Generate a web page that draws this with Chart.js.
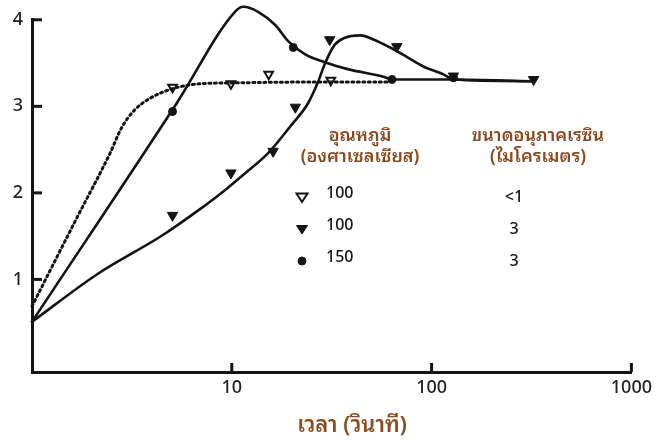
<!DOCTYPE html>
<html>
<head>
<meta charset="utf-8">
<script src="https://cdn.jsdelivr.net/npm/chart.js@4.4.0/dist/chart.umd.min.js"></script>
<style>
  html, body { margin: 0; padding: 0; background: #fff; }
  #wrap { width: 657px; height: 441px; position: relative; }
</style>
</head>
<body>
<div id="wrap"><canvas id="chart" width="657" height="441"></canvas></div>
<script>
"use strict";

// tick labels
const xTicks = [10, 100, 1000];
const yTicks = [1, 2, 3, 4];

// <1 micron resin, 100 C (dotted curve, open triangles)
const fineLineTime  = [1.0, 1.65, 2.46, 2.82, 3.27, 3.88, 4.99, 6.86, 9.69, 21.4, 60.1];
const fineLineValue = [0.69, 1.68, 2.46, 2.76, 2.96, 3.09, 3.20, 3.26, 3.27, 3.28, 3.28];
const fineMarkTime  = [5.05, 9.9, 15.3, 31.3];
const fineMarkValue = [3.22, 3.26, 3.37, 3.30];

// 3 micron resin, 100 C (solid curve, filled triangles)
const coarseLineTime  = [1.0, 2.12, 4.5, 6.63, 9.34, 11.7, 15.2, 19.8, 24.0, 27.0, 29.2, 32.7, 36.6, 44.0, 51.5, 62.0, 75.4, 91.0, 114.6, 128.6, 313];
const coarseLineValue = [0.51, 1.06, 1.51, 1.78, 2.04, 2.23, 2.46, 2.78, 3.03, 3.28, 3.49, 3.71, 3.79, 3.82, 3.77, 3.68, 3.57, 3.46, 3.37, 3.31, 3.29];
const coarseMarkTime  = [5.05, 9.9, 16.1, 20.8, 30.9, 67, 128.6, 324];
const coarseMarkValue = [1.74, 2.23, 2.48, 2.99, 3.77, 3.69, 3.35, 3.31];

// 3 micron resin, 150 C (solid curve, dots)
const hotLineTime  = [1.0, 5.28, 10.45, 11.4, 13.6, 16.5, 19.2, 23.3, 29.2, 38.0, 58.0, 63.3, 128.6, 313];
const hotLineValue = [0.51, 3.03, 4.10, 4.15, 4.09, 3.94, 3.75, 3.60, 3.51, 3.43, 3.34, 3.31, 3.31, 3.29];
const hotMarkTime  = [5.05, 10.45, 20.3, 63.3, 128.6];
const hotMarkValue = [2.94, 4.10, 3.68, 3.31, 3.33];

// legend
const legendTemps = ["100", "100", "150"];
const legendSizes = ["<1", "3", "3"];
const legendMarks = ["open", "filled", "dot"];

const ink = "#141414";
const brown = "#8c4a1f";
const thaiFont = '"Noto Sans Thai Looped", "Noto Sans Thai", "Noto Sans", "DejaVu Sans", sans-serif';
const numFont = "'Noto Sans', 'DejaVu Sans', sans-serif";

function pairs(xs, ys) {
  return xs.map((x, i) => ({ x: x, y: ys[i] }));
}

function lineSet(xs, ys, dash) {
  return {
    data: pairs(xs, ys),
    borderColor: ink,
    borderWidth: dash ? 3 : 2.6,
    borderDash: dash || [],
    borderCapStyle: "round",
    pointRadius: 0,
    cubicInterpolationMode: "monotone",
    clip: false,
    fill: false
  };
}

function markSet(xs, ys, style) {
  return {
    data: pairs(xs, ys),
    showLine: false,
    pointStyle: style === "dot" ? "circle" : "triangle",
    rotation: style === "dot" ? 0 : 180,
    pointRadius: style === "dot" ? 4 : (style === "open" ? 5 : 6),
    pointBackgroundColor: style === "open" ? "#fff" : ink,
    pointBorderColor: ink,
    pointBorderWidth: style === "open" ? 2 : 1,
    clip: false
  };
}

function drawMark(ctx, style, x, y) {
  ctx.beginPath();
  if (style === "dot") {
    ctx.arc(x, y, 4, 0, Math.PI * 2);
  } else {
    ctx.moveTo(x - 5.5, y - 3.5);
    ctx.lineTo(x + 5.5, y - 3.5);
    ctx.lineTo(x, y + 5);
    ctx.closePath();
  }
  ctx.fillStyle = style === "open" ? "#fff" : ink;
  ctx.fill();
  ctx.lineWidth = style === "open" ? 2 : 1;
  ctx.strokeStyle = ink;
  ctx.stroke();
}

// inward ticks, legend block and x title
const overlay = {
  id: "overlay",
  afterDraw(chart) {
    const { ctx, scales: { x, y } } = chart;
    ctx.save();
    ctx.strokeStyle = ink;
    ctx.lineWidth = 3;
    yTicks.forEach(v => {
      const py = y.getPixelForValue(v);
      ctx.beginPath();
      ctx.moveTo(x.left, py);
      ctx.lineTo(x.left + 10, py);
      ctx.stroke();
    });
    xTicks.forEach(v => {
      const px = x.getPixelForValue(v);
      ctx.beginPath();
      ctx.moveTo(px, y.bottom);
      ctx.lineTo(px, y.bottom - 9);
      ctx.stroke();
    });

    ctx.textAlign = "center";
    ctx.textBaseline = "middle";
    ctx.fillStyle = brown;
    ctx.font = "600 18px " + thaiFont;
    ctx.fillText("อุณหภูมิ", 360, 136);
    ctx.fillText("(องศาเซลเซียส)", 360, 157);
    ctx.fillText("ขนาดอนุภาคเรซิน", 538, 136);
    ctx.fillText("(ไมโครเมตร)", 538, 157);

    ctx.font = "600 22px " + thaiFont;
    ctx.fillText("เวลา (วินาที)", 352, 426);

    legendTemps.forEach((t, i) => {
      const rowY = 193 + i * 32;
      drawMark(ctx, legendMarks[i], 302, rowY + 4);
      ctx.fillStyle = ink;
      ctx.font = "500 16px " + numFont;
      ctx.textAlign = "left";
      ctx.fillText(t, 326, rowY);
      ctx.textAlign = "center";
      ctx.fillText(legendSizes[i], 514, rowY + 4);
    });
    ctx.restore();
  }
};

new Chart(document.getElementById("chart"), {
  type: "line",
  data: {
    datasets: [
      lineSet(fineLineTime, fineLineValue, [2, 3.5]),
      lineSet(coarseLineTime, coarseLineValue),
      lineSet(hotLineTime, hotLineValue),
      markSet(fineMarkTime, fineMarkValue, "open"),
      markSet(coarseMarkTime, coarseMarkValue, "filled"),
      markSet(hotMarkTime, hotMarkValue, "dot")
    ]
  },
  options: {
    responsive: false,
    animation: false,
    layout: { padding: { top: 15, right: 22, left: 0, bottom: 0 } },
    plugins: { legend: { display: false }, tooltip: { enabled: false } },
    scales: {
      x: {
        type: "logarithmic",
        min: 1,
        max: 1000,
        afterBuildTicks: s => { s.ticks = xTicks.map(v => ({ value: v })); },
        afterFit: s => { s.height = 69; },
        ticks: {
          color: "#222",
          font: { family: numFont, size: 18, weight: "500" },
          padding: 5,
          maxRotation: 0,
          callback: v => String(v)
        },
        grid: { drawOnChartArea: false, drawTicks: false },
        border: { color: ink, width: 3 }
      },
      y: {
        min: -0.07,
        max: 4,
        afterBuildTicks: s => { s.ticks = yTicks.map(v => ({ value: v })); },
        afterFit: s => { s.width = 32; },
        ticks: {
          color: "#222",
          font: { family: numFont, size: 18, weight: "500" },
          padding: 9
        },
        grid: { drawOnChartArea: false, drawTicks: false },
        border: { color: ink, width: 3 }
      }
    }
  },
  plugins: [overlay]
});
</script>
</body>
</html>
